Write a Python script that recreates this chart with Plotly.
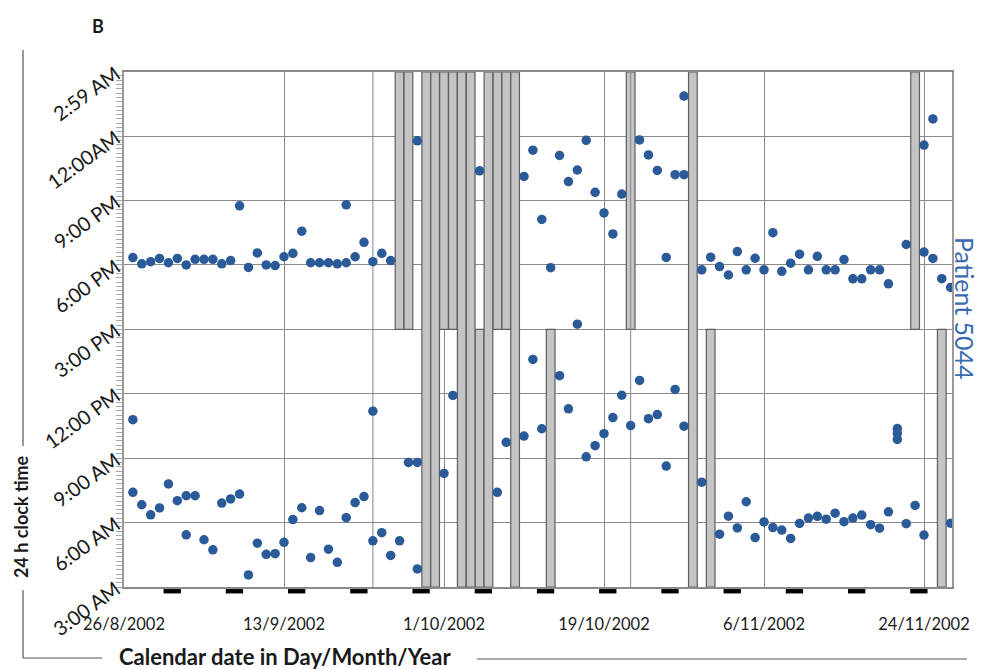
import pandas as pd
import plotly.graph_objects as go

start = pd.Timestamp("2002-08-26")
DAY_MS = 86400000

# Evening events: day number (0 = 26/8/2002) and clock time in hours
# (values above 24 are the early hours of the following day)
eve_day = [1, 2, 3, 4, 5, 6, 7, 8, 9, 10, 11, 12, 13, 14, 15, 16, 17, 18, 19, 20,
           21, 22, 23, 24, 25, 25, 26, 27, 28, 29, 30, 33, 40, 45, 46, 47, 48, 49, 50, 51,
           51, 52, 53, 54, 55, 56, 58, 59, 60, 61, 62, 63, 63, 65, 66, 67, 68, 69, 70, 71,
           72, 73, 74, 75, 76, 77, 78, 79, 80, 81, 82, 83, 84, 85, 86, 88, 90, 90, 91, 91,
           92, 93]
eve_hour = [18.34, 18.05, 18.15, 18.30, 18.10, 18.30, 18.00, 18.26, 18.26, 18.26,
            18.05, 18.20, 20.75, 17.88, 18.56, 18.00, 17.97, 18.38, 18.54, 19.57,
            18.10, 18.10, 18.10, 18.05, 18.10, 20.80, 18.38, 19.05, 18.15, 18.54,
            18.20, 23.78, 22.38, 22.12, 23.34, 20.12, 17.87, 23.10, 21.88, 22.42,
            15.24, 23.80, 21.38, 20.42, 19.44, 21.30, 23.82, 23.12, 22.40, 18.35,
            22.20, 22.20, 25.86, 17.77, 18.36, 17.92, 17.53, 18.62, 17.77, 18.31,
            17.77, 19.50, 17.70, 18.08, 18.50, 17.77, 18.40, 17.77, 17.77, 18.25,
            17.35, 17.35, 17.77, 17.77, 17.12, 18.95, 18.60, 23.58, 18.30, 24.80,
            17.36, 16.95]

# Morning events
morn_day = [1, 1, 2, 3, 4, 5, 6, 7, 7, 8, 9, 10, 11, 12, 13, 14, 15, 16, 17, 18,
            19, 20, 21, 22, 23, 24, 25, 26, 27, 28, 28, 29, 30, 31, 32, 33, 33, 36, 37, 42,
            43, 45, 46, 47, 49, 50, 52, 53, 54, 55, 56, 57, 58, 59, 60, 61, 62, 63, 65, 67,
            68, 69, 70, 71, 72, 73, 74, 75, 76, 77, 78, 79, 80, 81, 82, 83, 84, 85, 86, 87,
            87, 87, 88, 89, 90, 93]
morn_hour = [7.41, 10.79, 6.83, 6.36, 6.68, 7.80, 7.02, 7.25, 5.43, 7.25,
             5.20, 4.73, 6.91, 7.10, 7.33, 3.56, 5.04, 4.52, 4.55, 5.08,
             6.14, 6.69, 4.37, 6.56, 4.76, 4.15, 6.23, 6.93, 7.21, 5.15,
             11.19, 5.53, 4.47, 5.15, 8.80, 8.80, 3.84, 8.29, 11.92, 7.41,
             9.74, 10.03, 13.60, 10.37, 12.84, 11.30, 9.06, 9.58, 10.14, 10.89,
             11.93, 10.52, 12.62, 10.84, 11.03, 8.63, 12.20, 10.49, 7.88, 5.46,
             6.30, 5.75, 6.97, 5.30, 6.03, 5.77, 5.65, 5.26, 5.96, 6.21,
             6.29, 6.16, 6.44, 6.04, 6.21, 6.35, 5.90, 5.74, 6.50, 10.38,
             10.15, 9.87, 5.95, 6.80, 5.42, 5.97]

# Days without recording, by the part of the 24 h window that is missing
gap_top = [31, 32, 36, 37, 42, 43, 57, 89]
gap_bottom = [40, 48, 66, 92]
gap_full = [34, 35, 38, 39, 41, 44, 64]

# Four-week reference days and weekend (Saturday) days
marker_days = [0, 28, 57]
saturdays = [5, 12, 19, 26, 33, 40, 47, 54, 61, 68, 75, 82, 89]

date_ticks = ["2002-08-26", "2002-09-13", "2002-10-01", "2002-10-19", "2002-11-06", "2002-11-24"]
date_labels = ["26/8/2002", "13/9/2002", "1/10/2002", "19/10/2002", "6/11/2002", "24/11/2002"]
hour_ticks = [3, 6, 9, 12, 15, 18, 21, 24, 26.9833]
hour_labels = ["3:00 AM", "6:00 AM", "9:00 AM", "12:00 PM", "3:00 PM", "6:00 PM",
               "9:00 PM", "12:00AM", "2:59 AM"]

Y_LO, Y_HI = 3.0, 26.9833
MID = 15.0


def to_date(days):
    return [start + pd.Timedelta(days=d) for d in days]


BLUE = "#2b5a98"
GRID = "#8a8a8a"
FONT = "Lato"
TEXT = "#1a1a1a"

fig = go.Figure()

# Missing-data bars
bar_x, bar_base, bar_len = [], [], []
for d in gap_top:
    bar_x.append(d); bar_base.append(MID); bar_len.append(Y_HI - MID)
for d in gap_bottom:
    bar_x.append(d); bar_base.append(Y_LO); bar_len.append(MID - Y_LO)
for d in gap_full:
    bar_x.append(d); bar_base.append(Y_LO); bar_len.append(Y_HI - Y_LO)

fig.add_trace(go.Bar(
    x=to_date(bar_x), y=bar_len, base=bar_base, width=0.98 * DAY_MS,
    marker=dict(color="#c4c4c4", line=dict(color="#5e5e5e", width=1.2)),
    showlegend=False, hoverinfo="skip"))

# Reference-day vertical lines
lx, ly = [], []
for d in marker_days[1:]:
    lx += [start + pd.Timedelta(days=d)] * 2 + [None]
    ly += [Y_LO, Y_HI, None]
fig.add_trace(go.Scatter(x=lx, y=ly, mode="lines",
                         line=dict(color="#7d8796", width=1),
                         showlegend=False, hoverinfo="skip"))

# Event dots
fig.add_trace(go.Scatter(x=to_date(eve_day), y=eve_hour, mode="markers",
                         marker=dict(color=BLUE, size=9.5), showlegend=False))
fig.add_trace(go.Scatter(x=to_date(morn_day), y=morn_hour, mode="markers",
                         marker=dict(color=BLUE, size=9.5), showlegend=False))

# Triangles above and below the reference days
fig.add_trace(go.Scatter(x=to_date(marker_days), y=[Y_HI + 0.33] * len(marker_days),
                         mode="markers", cliponaxis=False,
                         marker=dict(symbol="triangle-down", color=BLUE, size=11),
                         showlegend=False))
fig.add_trace(go.Scatter(x=to_date(marker_days), y=[Y_LO - 0.45] * len(marker_days),
                         mode="markers", cliponaxis=False,
                         marker=dict(symbol="triangle-up", color=BLUE, size=11),
                         showlegend=False))

# Weekend markers along the date axis
shapes = []
for s in saturdays:
    shapes.append(dict(type="rect", xref="x", yref="paper",
                       x0=start + pd.Timedelta(days=s - 0.55),
                       x1=start + pd.Timedelta(days=s + 1.4),
                       y0=-0.0125, y1=-0.004, fillcolor="black", line=dict(width=0)))


# Axis-title bracket lines (positions given in page pixels)
def px_x(p):
    return (p - 124) / 828.0


def px_y(p):
    return (587 - p) / 515.0


line_style = dict(color="#555555", width=1.2)
for (x0, y0, x1, y1) in [(23, 50, 23, 446), (23, 590, 23, 658), (23, 658, 102, 658),
                         (477, 659, 967, 659)]:
    shapes.append(dict(type="line", xref="paper", yref="paper",
                       x0=px_x(x0), y0=px_y(y0), x1=px_x(x1), y1=px_y(y1),
                       line=line_style))


def label(text, x, y, size, angle=0, color=TEXT, xanchor="center"):
    return dict(text=text, xref="paper", yref="paper", x=px_x(x), y=px_y(y),
                xanchor=xanchor, yanchor="middle", textangle=angle, showarrow=False,
                font=dict(size=size, family=FONT, color=color))


fig.update_layout(
    width=990, height=669,
    margin=dict(l=124, r=38, t=72, b=82),
    paper_bgcolor="white", plot_bgcolor="white",
    barmode="overlay",
    shapes=shapes,
    font=dict(family=FONT, color=TEXT),
    xaxis=dict(
        type="date",
        range=[start, start + pd.Timedelta(days=93.15)],
        tickvals=date_ticks, ticktext=date_labels,
        tickfont=dict(size=16.5, family=FONT, color=TEXT),
        showgrid=True, gridcolor=GRID, gridwidth=1,
        showline=True, linecolor=GRID, linewidth=2, mirror=True,
        ticks="", ticklabelstandoff=21, zeroline=False,
    ),
    yaxis=dict(
        range=[Y_LO, Y_HI],
        tickvals=hour_ticks, ticktext=hour_labels,
        tickangle=-36,
        tickfont=dict(size=20, family=FONT, color=TEXT),
        showgrid=True, gridcolor=GRID, gridwidth=1,
        showline=True, linecolor="#9a9a9a", linewidth=2, mirror=True,
        ticks="", zeroline=False, ticklabelstandoff=2,
        minor=dict(dtick=0.2, tick0=3, ticks="outside", ticklen=6,
                   tickcolor="#a8a8a8", tickwidth=1, showgrid=False),
    ),
    annotations=[
        label("<b>B</b>", 98, 26, 18),
        label("<b>24 h clock time</b>", 21, 517, 18, angle=-90),
        label("<b>Calendar date in Day/Month/Year</b>", 117, 656, 22, xanchor="left"),
        label("Patient 5044", 965, 308, 25, angle=90, color="#3a6bb0"),
    ],
)

fig.write_html("out.html")
